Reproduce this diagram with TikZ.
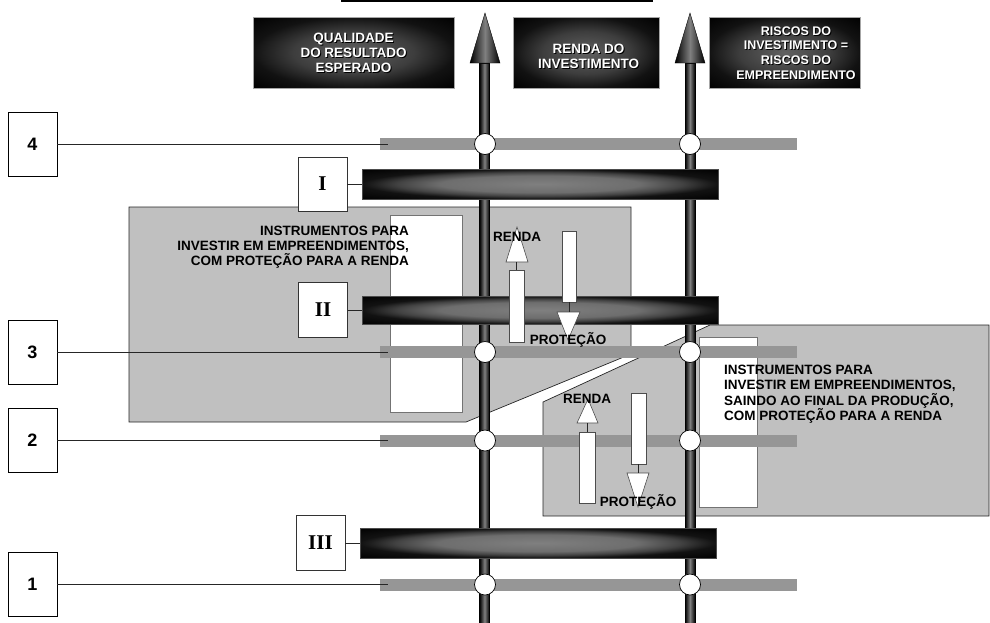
\documentclass[tikz,border=0pt]{standalone}
\usepackage{fontspec}
\setmainfont{Liberation Serif}
\newfontfamily\arial{Liberation Sans}
\usetikzlibrary{calc}
\definecolor{panelgray}{HTML}{C0C0C0}
\definecolor{bargray}{HTML}{969696}
\pgfdeclareradialshading{barshade}{\pgfpoint{0bp}{0bp}}{color(0bp)=(black!50); color(14bp)=(black!57); color(20bp)=(black!74); color(23.5bp)=(black!88); color(25bp)=(black!93); color(36bp)=(black); color(50bp)=(black)}
\pgfdeclareradialshading{boxshade}{\pgfpoint{0bp}{0bp}}{color(0bp)=(black!62); color(15bp)=(black!76); color(25bp)=(black!93); color(36bp)=(black); color(50bp)=(black)}
\begin{document}
\begin{tikzpicture}[x=1pt,y=-1pt,
  panel/.style={fill=panelgray,draw=black!85,line width=0.7pt},
  whiterect/.style={draw=black!55,fill=white,line width=0.6pt},
  levelbox/.style={draw=black,fill=white,line width=0.8pt,minimum width=49pt,minimum height=64pt,inner sep=0pt,font=\arial\bfseries\fontsize{18}{18}\selectfont},
  romanbox/.style={draw=black!80,fill=white,line width=0.8pt,minimum width=49pt,minimum height=54pt,inner sep=0pt,font=\bfseries\fontsize{21}{21}\selectfont},
  graybar/.style={fill=bargray,minimum width=417pt,minimum height=12pt,inner sep=0pt,outer sep=0pt},
  darkbar/.style={shade,shading=barshade,draw=black!70,line width=0.5pt,minimum width=356pt,inner sep=0pt,outer sep=0pt},
  topbox/.style={shade,shading=boxshade,draw=black!35,line width=0.6pt,minimum height=71pt,inner sep=0pt,outer sep=0pt},
  junction/.style={circle,draw=black,fill=white,line width=0.7pt,minimum size=21pt,inner sep=0pt},
  conn/.style={draw=black!85,line width=0.8pt},
  shaft/.style={left color=black,right color=black,middle color=black!50,draw=black,line width=0.4pt},
  smallrect/.style={draw=black!70,fill=white,line width=0.6pt},
  lbl/.style={font=\arial\bfseries\fontsize{13.5}{15}\selectfont,inner sep=0pt},
  toptext/.style={font=\arial\bfseries\fontsize{13.5}{15}\selectfont,align=center,inner sep=0pt},
]
\useasboundingbox (0,0) rectangle (990,622);

% panels
\path[panel] (129,207) -- (631,207) -- (631,354) -- (466,422) -- (129,422) -- cycle;
\path[panel] (543,516) -- (543,402) -- (710,325) -- (989,325) -- (989,516) -- cycle;
\path[whiterect] (390,215) rectangle (462,412);
\path[whiterect] (699,337) rectangle (757,507);

% top line
\coordinate (TL1) at (341,1);
\coordinate (TL2) at (653,1);
\draw[line width=1.5pt] (TL1) -- (TL2);

% gray level bars
\node[graybar] (G4) at (588.5,144) {};
\node[graybar] (G3) at (588.5,352) {};
\node[graybar] (G2) at (588.5,440.5) {};
\node[graybar] (G1) at (588.5,584.5) {};

% level boxes and connectors
\node[levelbox] (L4) at (32.5,144) {4};
\node[levelbox] (L3) at (32.5,352) {3};
\node[levelbox] (L2) at (32.5,440.5) {2};
\node[levelbox] (L1) at (32.5,584.5) {1};
\draw[conn] (L4.east) -- ($(G4.west)+(8,0)$);
\draw[conn] (L3.east) -- ($(G3.west)+(8,0)$);
\draw[conn] (L2.east) -- ($(G2.west)+(8,0)$);
\draw[conn] (L1.east) -- ($(G1.west)+(8,0)$);

% vertical shafts with arrowheads
\path[shaft] (479.5,63) rectangle (489.5,623);
\path[shaft] (470,63) -- (500,63) -- (485,13) -- cycle;
\path[shaft] (685,63) rectangle (695,623);
\path[shaft] (675,63) -- (705,63) -- (690,13) -- cycle;

% junctions
\foreach \yy/\nm in {144/4,352/3,440.5/2,584.5/1}{
  \node[junction] (JA\nm) at (485,\yy) {};
  \node[junction] (JB\nm) at (690,\yy) {};
}

% dark bars and roman boxes
\node[darkbar,minimum height=30pt] (D1) at (540,184) {};
\node[darkbar,minimum height=28pt] (D2) at (540,310) {};
\node[darkbar,minimum height=30pt] (D3) at (538,543) {};
\node[romanbox] (R1) at (322.5,184) {I};
\node[romanbox,minimum height=55pt] (R2) at (323,310) {II};
\node[romanbox,minimum height=55pt] (R3) at (320.5,543) {III};
\draw[conn] (R1.east) -- (D1.west);
\draw[conn] (R2.east) -- (D2.west);
\draw[conn] (R3.east) -- (D3.west);

% top boxes
\node[topbox,minimum width=201pt] (B1) at (353.5,52.5) {};
\node[topbox,minimum width=146pt] (B2) at (586,52.5) {};
\node[topbox,minimum width=151pt] (B3) at (784.5,52.5) {};
\node[toptext,text=black] (B1s) at (354.5,54) {QUALIDADE\\DO RESULTADO\\ESPERADO};
\node[toptext,text=white] (B1t) at (353.5,53) {QUALIDADE\\DO RESULTADO\\ESPERADO};
\node[toptext,text=black] (B2s) at (589.5,57.5) {RENDA DO\\INVESTIMENTO};
\node[toptext,text=white] (B2t) at (588.5,56.5) {RENDA DO\\INVESTIMENTO};
\node[toptext,text=black,font=\arial\bfseries\fontsize{12.5}{14.7}\selectfont] (B3s) at (797,54) {RISCOS DO\\INVESTIMENTO =\\RISCOS DO\\EMPREENDIMENTO};
\node[toptext,text=white,font=\arial\bfseries\fontsize{12.5}{14.7}\selectfont] (B3t) at (796,53) {RISCOS DO\\INVESTIMENTO =\\RISCOS DO\\EMPREENDIMENTO};

% small arrows, left panel
\path[smallrect] (509,270) rectangle (524,342);
\coordinate (UA1) at (516.5,270);
\coordinate (UA1h) at (516.5,262);
\draw[smallrect] (506,262) -- (528,262) -- (517,227) -- cycle;
\draw[conn,line width=0.6pt] (UA1h) -- (UA1);
\path[smallrect] (562,231) rectangle (576,302);
\coordinate (DA1) at (569,302);
\coordinate (DA1h) at (569,312);
\draw[smallrect] (557,312) -- (580,312) -- (568,340) -- cycle;
\draw[conn,line width=0.6pt] (DA1) -- (DA1h);

% small arrows, right panel
\path[smallrect] (579,432) rectangle (595,503);
\coordinate (UA2) at (587,432);
\coordinate (UA2h) at (587,423);
\draw[smallrect] (577,423) -- (598,423) -- (588,399) -- cycle;
\draw[conn,line width=0.6pt] (UA2h) -- (UA2);
\path[smallrect] (631,393) rectangle (646,464);
\coordinate (DA2) at (638,464);
\coordinate (DA2h) at (638,473);
\draw[smallrect] (627,473) -- (649,473) -- (638,507) -- cycle;
\draw[conn,line width=0.6pt] (DA2) -- (DA2h);

% labels
\node[lbl] (rl1) at (517,237) {RENDA};
\node[lbl] (pl1) at (568,340) {PROTEÇÃO};
\node[lbl] (rl2) at (587,399) {RENDA};
\node[lbl] (pl2) at (638,502) {PROTEÇÃO};

% panel texts
\node[lbl,align=right,anchor=east] (PT1) at (409,247) {INSTRUMENTOS PARA\\INVESTIR EM EMPREENDIMENTOS,\\COM PROTEÇÃO PARA A RENDA};
\node[lbl,align=left,anchor=west,font=\arial\bfseries\fontsize{13.5}{15.5}\selectfont] (PT2) at (724,394) {INSTRUMENTOS PARA\\INVESTIR EM EMPREENDIMENTOS,\\SAINDO AO FINAL DA PRODUÇÃO,\\COM PROTEÇÃO PARA A RENDA};
\end{tikzpicture}
\end{document}
